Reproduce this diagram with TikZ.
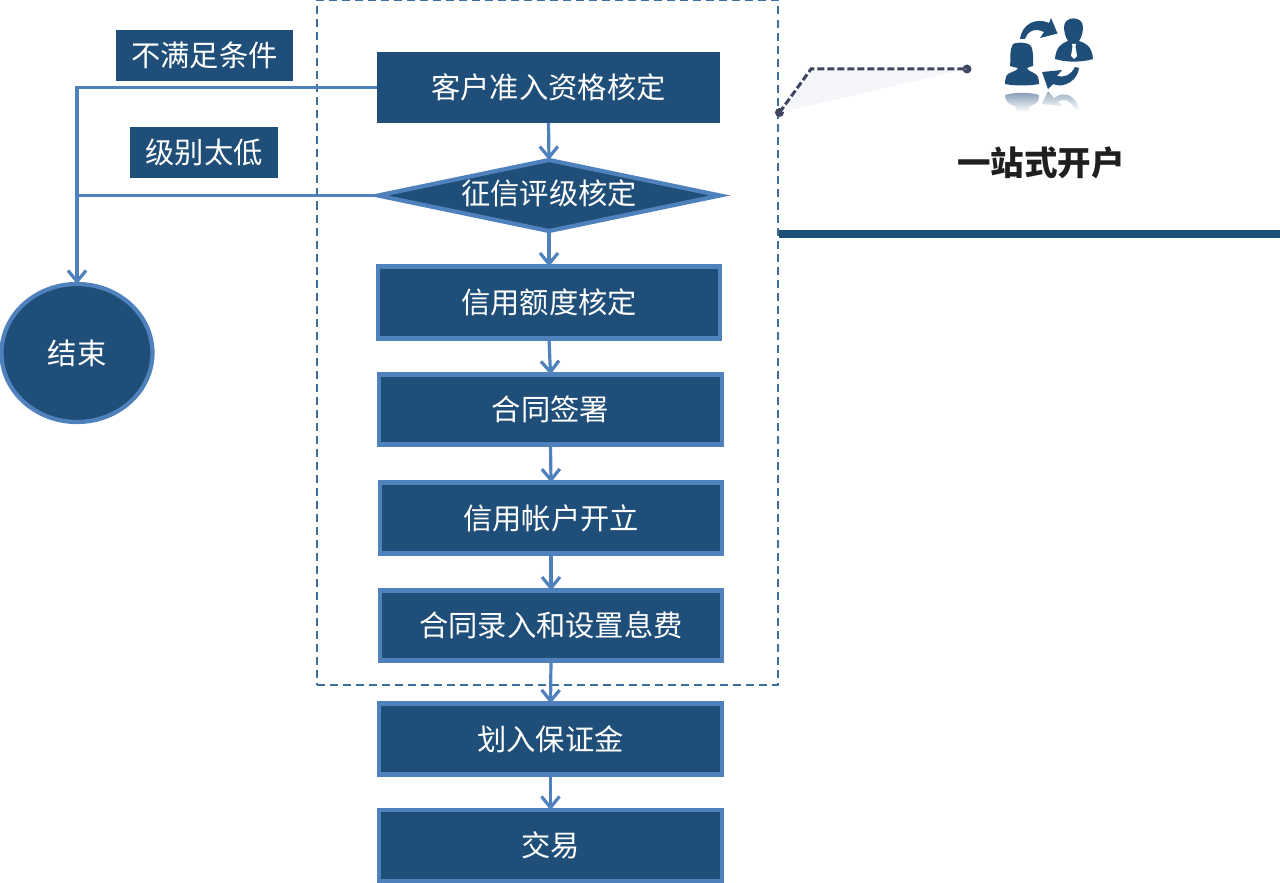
\documentclass[tikz,border=0pt]{standalone}
\usepackage{fontspec}
\setmainfont{Noto Sans CJK SC}
\usetikzlibrary{arrows.meta,shapes.geometric,shadings}
\definecolor{navy}{HTML}{1F4E79}
\definecolor{edgeblue}{HTML}{4F81BD}
\definecolor{framecol}{HTML}{3A6F9F}
\definecolor{leader}{HTML}{3F4460}
\definecolor{leaderfill}{HTML}{F4F6FA}
\tikzset{
  x=1pt,y=-1pt,
  base/.style={fill=navy,text=white,font=\fontsize{29.3}{32}\selectfont,inner sep=0pt,outer sep=0pt,align=center},
  plainbox/.style={base,rectangle},
  stepbox/.style={base,rectangle,draw=edgeblue,line width=4.2pt},
  conn/.style={draw=edgeblue,line width=3.2pt},
  arrowconn/.style={conn,-{Straight Barb[length=11pt,width=18pt,line width=3.2pt]}},
  dotmark/.style={circle,fill=leader,inner sep=0pt,minimum size=9pt},
  iconfill/.style={fill=navy,draw=none},
}
\begin{document}
\begin{tikzpicture}
\useasboundingbox (0,0) rectangle (1280,883);
% frame
\node[draw=framecol,line width=2pt,dash pattern=on 8pt off 5pt,inner sep=0pt,minimum width=461pt,minimum height=684pt] (frame) at (547,342.5) {};
% process
\node[plainbox,minimum width=343pt,minimum height=71pt] (a) at (548.5,87.5) {客户准入资格核定};
\node[base,diamond,draw=edgeblue,line width=4.2pt,minimum width=342pt,minimum height=71pt,aspect=4.7] (d) at (549,195.5) {\raisebox{7pt}{征信评级核定}};
\node[stepbox,minimum width=342pt,minimum height=72pt] (c) at (549,302.5) {信用额度核定};
\node[stepbox,minimum width=343pt,minimum height=70pt] (e) at (550.5,409.5) {合同签署};
\node[stepbox,minimum width=342pt,minimum height=71pt] (f) at (551,518) {信用帐户开立};
\node[stepbox,minimum width=342pt,minimum height=70pt] (g) at (551,625.5) {合同录入和设置息费};
\node[stepbox,minimum width=343pt,minimum height=71pt] (h) at (550.5,739) {划入保证金};
\node[stepbox,minimum width=343pt,minimum height=71pt] (i) at (550.5,845.5) {交易};
% terminal and labels
\node[base,ellipse,draw=edgeblue,line width=4.2pt,minimum width=151pt,minimum height=138pt] (end) at (77,353) {结束};
\node[plainbox,minimum width=177pt,minimum height=51pt] (l1) at (204.5,55.5) {不满足条件};
\node[plainbox,minimum width=148pt,minimum height=51pt] (l2) at (204,152.5) {级别太低};
% connectors
\draw[arrowconn] (a.west) -| (end.north);
\coordinate (j) at (d.west -| end.north);
\draw[conn] (d.west) -- (j);
\draw[arrowconn] (a.south) -- (d.north);
\draw[arrowconn] (d.south) -- (c.north);
\draw[arrowconn] (c.south) -- (e.north);
\draw[arrowconn] (e.south) -- (f.north);
\draw[arrowconn] (f.south) -- (g.north);
\draw[arrowconn] (g.south) -- (h.north);
\draw[arrowconn] (h.south) -- (i.north);
% leader
\coordinate (lk) at (811,69);
\node[dotmark] (d1) at (779.5,112.5) {};
\node[dotmark] (d2) at (967,69) {};
\fill[leaderfill] (d1.center) -- (lk) -- (d2.center) -- cycle;
\draw[leader,line width=3pt,dash pattern=on 7pt off 3pt] (d1.center) -- (lk) -- (d2.center);
% bar
\fill[navy] (779,230) rectangle (1280,238);
% title
\node[font=\fontsize{33.5}{36}\selectfont\bfseries,text=black!88] (title) at (1041,163) {一站式开户};
% icon: woman
\path[iconfill] (1013,44) .. controls (1017,42) and (1028,42) .. (1031,46) .. controls (1034,52) and (1033,62) .. (1033,66) .. controls (1031,67) and (1028,67) .. (1027,68) .. controls (1028,72) and (1036,72) .. (1038,77) .. controls (1039,80) and (1039,83) .. (1039,84) .. controls (1030,86) and (1014,86) .. (1005,84) .. controls (1005,80) and (1006,75) .. (1008,74) .. controls (1011,72) and (1017,71) .. (1018,68) .. controls (1015,67) and (1012,67) .. (1010,66) .. controls (1011,58) and (1009,50) .. (1013,44) -- cycle;
% icon: man
\path[iconfill] (1064,27) .. controls (1064,15.5) and (1083,15.5) .. (1083,27) .. controls (1083,33) and (1081,38) .. (1079,41) .. controls (1088,44) and (1092,48) .. (1093,59) .. controls (1082,62.5) and (1066,62.5) .. (1055,59) .. controls (1056,48) and (1060,44) .. (1068,41) .. controls (1066,38) and (1064,33) .. (1064,27) -- cycle;
\fill[white] (1072,44) -- (1076,44) -- (1075.5,47) -- (1077,56) -- (1074,59) -- (1071,56) -- (1072.5,47) -- cycle;
% icon: arrows
\path[iconfill] (1020,39) .. controls (1022,24) and (1036,17) .. (1049,23) -- (1051,18) -- (1057.5,33.5) -- (1040,38) -- (1044,32) .. controls (1036,28) and (1028,30) .. (1025,39) -- cycle;
\path[iconfill] (1079,68) .. controls (1078,80) and (1064,89) .. (1053,84) -- (1048,89) -- (1042,72) -- (1062,70) -- (1057,76) .. controls (1064,78) and (1071,75) .. (1075,67) -- cycle;
% icon: reflections
\shade[top color=navy!55!white,bottom color=white] (1005,95) .. controls (1014,92) and (1030,92) .. (1039,95) .. controls (1039,100) and (1038,104) .. (1030,106) -- (1028,112) -- (1017,112) -- (1015,106) .. controls (1007,104) and (1005,100) .. (1005,95) -- cycle;
\shade[top color=navy!50!white,bottom color=white] (1042,104) -- (1048,91) -- (1054,98) .. controls (1066,89) and (1078,98) .. (1079,111) -- (1074,108) .. controls (1070,100) and (1064,98) .. (1058,102) -- (1062,106) -- cycle;
\end{tikzpicture}
\end{document}
